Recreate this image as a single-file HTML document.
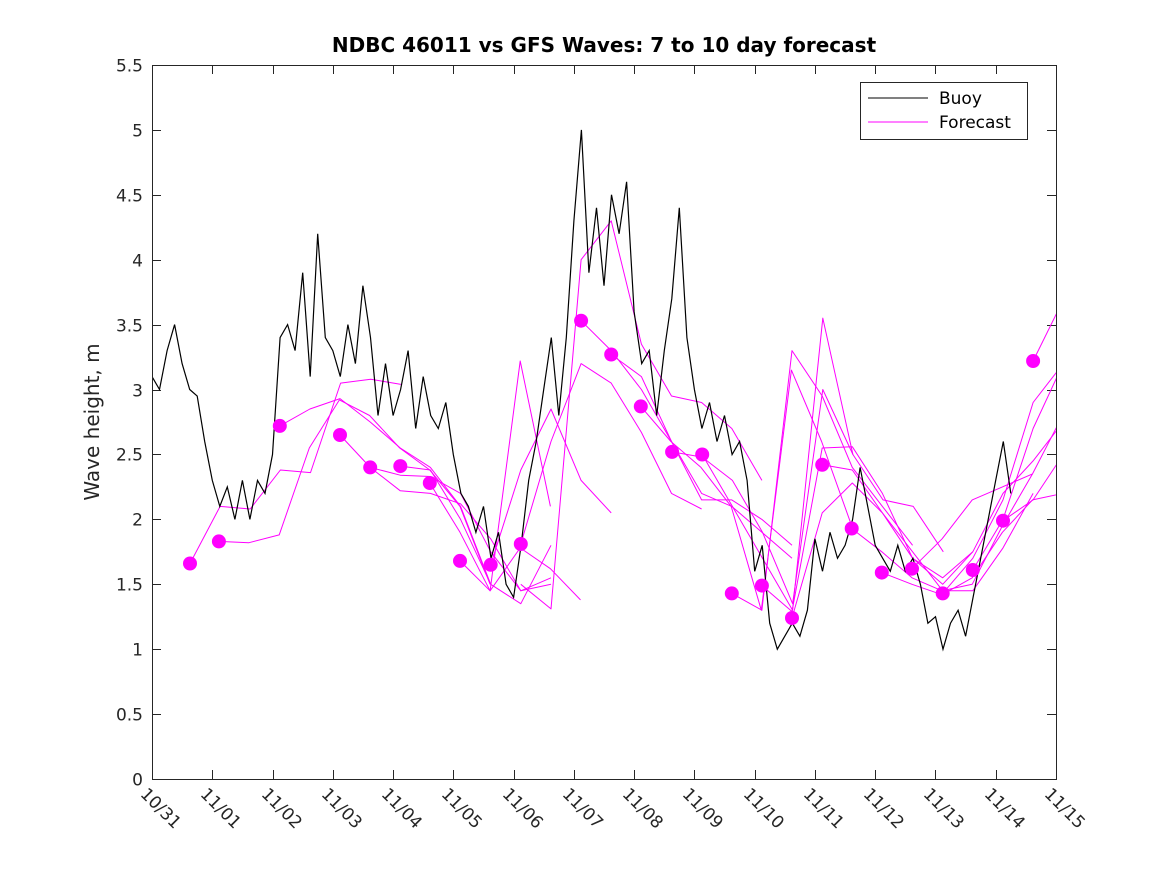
<!DOCTYPE html>
<html><head><meta charset="utf-8"><style>
body{margin:0;background:#fff;}
svg{display:block;font-family:"DejaVu Sans","Liberation Sans",sans-serif;}
</style></head><body>
<svg id="chart" width="1167" height="875" viewBox="0 0 1167 875" xmlns="http://www.w3.org/2000/svg">
<rect width="1167" height="875" fill="#fff"/>
<text x="604" y="52" text-anchor="middle" font-size="20" font-weight="bold" fill="#000">NDBC 46011 vs GFS Waves: 7 to 10 day forecast</text>
<text transform="translate(99,422) rotate(-90)" text-anchor="middle" font-size="20" fill="#262626">Wave height, m</text>
<defs><clipPath id="plotclip"><rect x="152" y="65" width="904" height="714"/></clipPath></defs>
<g id="axes"></g>
<g id="forecasts" clip-path="url(#plotclip)"></g>
<g id="buoy" clip-path="url(#plotclip)"></g>
<g id="dots"></g>
<rect x="152.5" y="65.5" width="904" height="714" fill="none" stroke="#262626" stroke-width="1"/>
<g>
<rect x="860.5" y="82.5" width="167" height="57" fill="#fff" stroke="#262626"/>
<line x1="868" y1="98" x2="928" y2="98" stroke="#000" stroke-width="1"/>
<text x="939" y="104" font-size="17" fill="#000">Buoy</text>
<line x1="868" y1="122" x2="928" y2="122" stroke="#ff00ff" stroke-width="1"/>
<text x="939" y="128" font-size="17" fill="#000">Forecast</text>
</g>
</svg>
<script>
const yTicks = [0,0.5,1,1.5,2,2.5,3,3.5,4,4.5,5,5.5];
const yTickLabels = ["0","0.5","1","1.5","2","2.5","3","3.5","4","4.5","5","5.5"];
const xTickLabels = ["10/31","11/01","11/02","11/03","11/04","11/05","11/06","11/07","11/08","11/09","11/10","11/11","11/12","11/13","11/14","11/15"];
const buoyStep = 0.125;
const buoyVals = [
3.1,3.0,3.3,3.5,3.2,3.0,2.95,2.6,
2.3,2.1,2.25,2.0,2.3,2.0,2.3,2.2,
2.5,3.4,3.5,3.3,3.9,3.1,4.2,3.4,
3.3,3.1,3.5,3.2,3.8,3.4,2.8,3.2,
2.8,3.0,3.3,2.7,3.1,2.8,2.7,2.9,
2.5,2.2,2.1,1.9,2.1,1.7,1.9,1.5,
1.4,1.8,2.3,2.6,3.0,3.4,2.8,3.4,
4.3,5.0,3.9,4.4,3.8,4.5,4.2,4.6,
3.6,3.2,3.3,2.8,3.3,3.7,4.4,3.4,
3.0,2.7,2.9,2.6,2.8,2.5,2.6,2.3,
1.6,1.8,1.2,1.0,1.1,1.2,1.1,1.3,
1.85,1.6,1.9,1.7,1.8,2.0,2.4,2.1,
1.8,1.7,1.6,1.8,1.6,1.7,1.5,1.2,
1.25,1.0,1.2,1.3,1.1,1.4,1.7,2.0,
2.3,2.6,2.2];
const fcStep = 0.5;
const fcStart = [0.63,1.11,2.12,3.12,3.62,4.12,4.61,5.11,5.62,6.12,6.12,7.12,7.62,8.11,8.63,9.13,9.62,10.12,10.62,11.12,11.61,12.11,12.61,13.12,13.62,14.12,14.62];
const fcVals = [
[1.66,2.1,2.08,2.38,2.36,3.05,3.08,3.04],
[1.83,1.82,1.88,2.55,2.92,2.8,2.55,2.38,2.1,1.5],
[2.72,2.85,2.93,2.75,2.55,2.4,2.1,1.5],
[2.65,2.4,2.22,2.2,2.12,1.85,1.45,1.5],
[2.40,2.34,2.33,2.2,1.75,1.45,1.55],
[2.41,2.38,2.0,1.5,1.35,1.8],
[2.28,1.9,1.45,1.78,1.62,1.38],
[1.68,1.45,3.22,2.1],
[1.65,2.38,2.85,2.3,2.05],
[1.81,2.6,3.2,3.05,2.67,2.2,2.08],
[1.5,1.31,4.0,4.3,3.35,2.95,2.9,2.7,2.3],
[3.53,3.3,3.0,2.6,2.2,2.1,1.9,1.7],
[3.27,3.1,2.6,2.15,2.15,2.0,1.8],
[2.87,2.6,2.4,2.1,1.3,3.15,2.6,1.95],
[2.52,2.48,2.3,1.9,1.35,3.0,2.5],
[2.5,2.1,1.7,1.3,3.55,2.5,2.15,2.1,1.75],
[1.43,1.3,3.3,2.95,2.4,2.1,1.8],
[1.49,1.29,2.55,2.56,2.2,1.7,1.55,1.75],
[1.24,2.05,2.28,2.05,1.75,1.45,1.45,1.78,2.2],
[2.42,2.38,2.05,1.7,1.5,1.75,2.2,2.45,2.75],
[1.93,1.75,1.55,1.45,1.5,1.95,2.35,2.8],
[1.59,1.5,1.42,1.55,1.9,2.15,2.2,2.24],
[1.62,1.85,2.15,2.25,2.35],
[1.43,1.7,2.15,2.9,3.2,3.1],
[1.61,2.0,2.7,3.2,3.25],
[1.99,2.15,2.5,2.85],
[3.22,3.69]];
const dotDays = [0.63,1.11,2.12,3.12,3.62,4.12,4.61,5.11,5.62,6.12,7.12,7.62,8.11,8.63,9.13,9.62,10.12,10.62,11.12,11.61,12.11,12.61,13.12,13.62,14.12,14.62];
const dotVals = [1.66,1.83,2.72,2.65,2.40,2.41,2.28,1.68,1.65,1.81,3.53,3.27,2.87,2.52,2.50,1.43,1.49,1.24,2.42,1.93,1.59,1.62,1.43,1.61,1.99,3.22];

const X0=152,X1=1056,Y0=779,Y1=65,XMAX=15,YMAX=5.5;
function xs(d){return X0+(X1-X0)*d/XMAX;}
function ys(v){return Y0-(Y0-Y1)*v/YMAX;}
const NS="http://www.w3.org/2000/svg";
function mk(tag,attrs,parent){const e=document.createElementNS(NS,tag);for(const k in attrs)e.setAttribute(k,attrs[k]);parent.appendChild(e);return e;}

const axes=document.getElementById('axes');
yTicks.forEach((t,i)=>{
  const y=Math.round(ys(t))+0.5;
  const l=mk('line',{x1:X0,y1:y,x2:X0+9,y2:y,stroke:'#262626'},axes);
  
  
  const r=mk('line',{x1:X1-9,y1:y,x2:X1,y2:y,stroke:'#262626'},axes);
  
  
  const tx=mk('text',{x:X0-9,y:y+6,'text-anchor':'end','font-size':17,fill:'#262626'},axes);
  tx.textContent=yTickLabels[i];
  
  
});
xTickLabels.forEach((lab,i)=>{
  const x=Math.round(xs(i))+0.5;
  const b=mk('line',{x1:x,y1:Y0,x2:x,y2:Y0-9,stroke:'#262626'},axes);
  
  
  const t=mk('line',{x1:x,y1:Y1,x2:x,y2:Y1+9,stroke:'#262626'},axes);
  
  
  const tx=mk('text',{transform:`translate(${x-13},${Y0+16}) rotate(45)`,'font-size':17,fill:'#262626'},axes);
  tx.textContent=lab;
  
  
});

const fg=document.getElementById('forecasts');
fcVals.forEach((vals,i)=>{
  const pts=vals.map((v,j)=>xs(fcStart[i]+j*fcStep).toFixed(1)+','+ys(v).toFixed(1)).join(' ');
  const p=mk('polyline',{points:pts,fill:'none',stroke:'#ff00ff','stroke-width':1,'stroke-linejoin':'round'},fg);
  
  
});

const bg=document.getElementById('buoy');
const bpts=buoyVals.map((v,j)=>xs(j*buoyStep).toFixed(1)+','+ys(v).toFixed(1)).join(' ');
const bl=mk('polyline',{points:bpts,fill:'none',stroke:'#000','stroke-width':1.2},bg);



const dg=document.getElementById('dots');
dotDays.forEach((d,i)=>{
  const c=mk('circle',{cx:xs(d).toFixed(1),cy:ys(dotVals[i]).toFixed(1),r:7,fill:'#ff00ff'},dg);
  
  
});
</script>
</body></html>
